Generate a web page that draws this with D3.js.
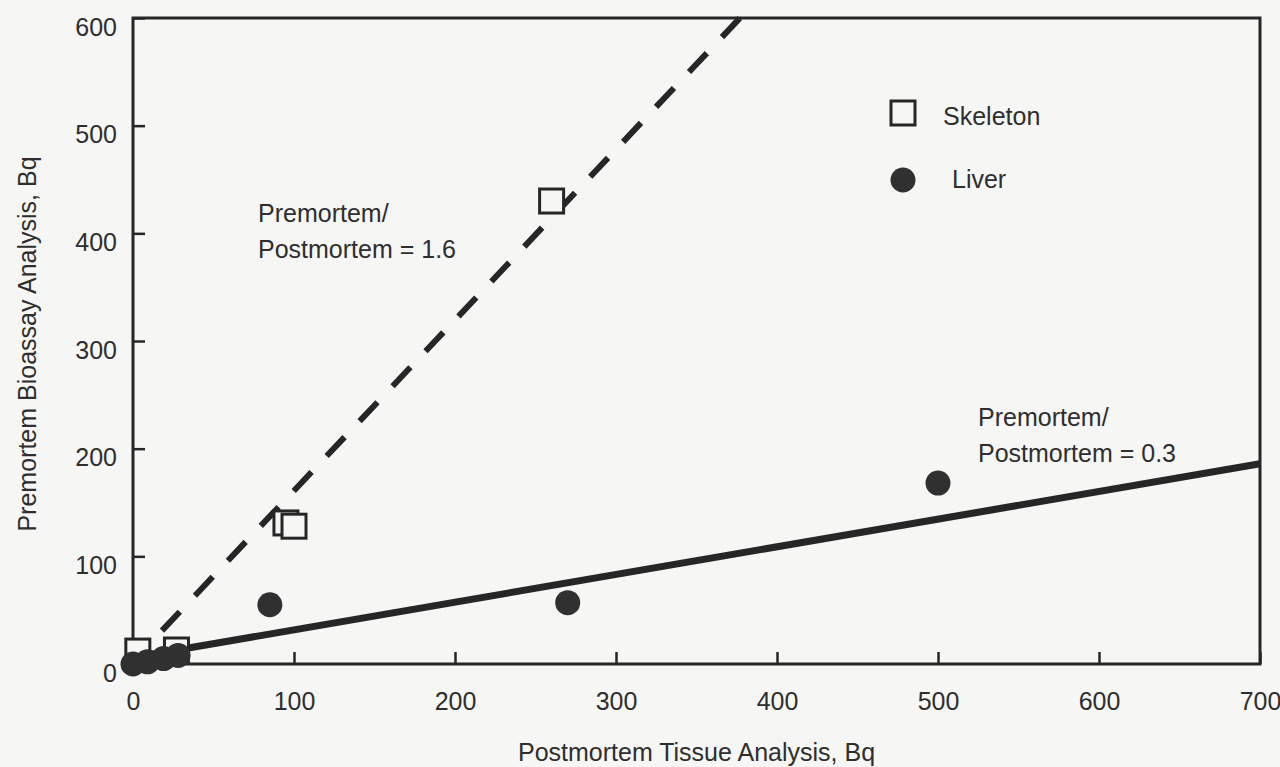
<!DOCTYPE html>
<html>
<head>
<meta charset="utf-8">
<script src="https://cdn.jsdelivr.net/npm/d3@7"></script>
<style>
  html, body { margin: 0; padding: 0; background: #f6f6f4; }
  svg { display: block; }
  text { font-family: "Liberation Sans", Arial, Helvetica, sans-serif; fill: #2e2e2e; }
</style>
</head>
<body>
<svg id="chart" width="1280" height="767"></svg>
<script>
// ---- data ----
const xTicks = [0, 100, 200, 300, 400, 500, 600, 700];
const yTicks = [0, 100, 200, 300, 400, 500, 600];
const skeletonX = [3, 27, 95, 100, 260];
const skeletonY = [12, 13, 131, 128, 430];
const liverX = [0, 9, 19, 28, 85, 270, 500];
const liverY = [0, 2, 5, 8, 55, 57, 168];
const dashedFitX = [18, 377];   // Premortem/Postmortem = 1.6
const dashedFitY = [31, 600];
const solidFitX = [0, 700];     // Premortem/Postmortem = 0.3
const solidFitY = [6, 186];
const seriesNames = ["Skeleton", "Liver"];

// ---- layout ----
const svg = d3.select("#chart");
const x = d3.scaleLinear().domain([0, 700]).range([133, 1260]);
const y = d3.scaleLinear().domain([0, 600]).range([664, 18]);
const ink = "#262626";

svg.append("rect").attr("width", 1280).attr("height", 767).attr("fill", "#f6f6f4");

// axes
const gx = svg.append("g").attr("transform", `translate(0,${y(0)})`)
  .call(d3.axisBottom(x).tickValues(xTicks).tickSize(-12).tickPadding(28).tickFormat(d3.format("d")));
gx.select(".domain").remove();
gx.selectAll(".tick line").attr("stroke", ink).attr("stroke-width", 2.5);
gx.selectAll(".tick text").attr("font-size", 25).attr("fill", "#2e2e2e");

const gy = svg.append("g").attr("transform", `translate(${x(0)},0)`)
  .call(d3.axisLeft(y).tickValues(yTicks).tickSize(-12).tickPadding(16).tickFormat(d3.format("d")));
gy.select(".domain").remove();
gy.selectAll(".tick line").attr("stroke", ink).attr("stroke-width", 2.5);
gy.selectAll(".tick text").attr("font-size", 25).attr("dy", 17).attr("fill", "#2e2e2e");

// frame
svg.append("rect")
  .attr("x", x(0)).attr("y", y(600))
  .attr("width", x(700) - x(0)).attr("height", y(0) - y(600))
  .attr("fill", "none").attr("stroke", ink).attr("stroke-width", 3);

// fit lines
const line = d3.line().x(d => x(d[0])).y(d => y(d[1]));
svg.append("path")
  .datum(dashedFitX.map((v, i) => [v, dashedFitY[i]]))
  .attr("d", line).attr("fill", "none").attr("stroke", ink)
  .attr("stroke-width", 6).attr("stroke-dasharray", "26,22");
svg.append("path")
  .datum(solidFitX.map((v, i) => [v, solidFitY[i]]))
  .attr("d", line).attr("fill", "none").attr("stroke", ink)
  .attr("stroke-width", 7);

// skeleton squares
const sq = 24;
svg.append("g").selectAll("rect")
  .data(skeletonX.map((v, i) => [v, skeletonY[i]]))
  .join("rect")
  .attr("x", d => x(d[0]) - sq / 2).attr("y", d => y(d[1]) - sq / 2)
  .attr("width", sq).attr("height", sq)
  .attr("fill", "#f6f6f4").attr("stroke", ink).attr("stroke-width", 3);

// liver circles
svg.append("g").selectAll("circle")
  .data(liverX.map((v, i) => [v, liverY[i]]))
  .join("circle")
  .attr("cx", d => x(d[0])).attr("cy", d => y(d[1]))
  .attr("r", 12.5).attr("fill", "#303030");

// legend
const lg = svg.append("g");
lg.append("rect").attr("x", 891).attr("y", 101).attr("width", sq).attr("height", sq)
  .attr("fill", "none").attr("stroke", ink).attr("stroke-width", 3);
lg.append("text").attr("x", 943).attr("y", 125).attr("font-size", 25).text(seriesNames[0]);
lg.append("circle").attr("cx", 903).attr("cy", 180).attr("r", 12.5).attr("fill", "#303030");
lg.append("text").attr("x", 952).attr("y", 188).attr("font-size", 25).text(seriesNames[1]);

// annotations
const ann = svg.append("g").attr("font-size", 25);
ann.append("text").attr("x", 258).attr("y", 222).text("Premortem/");
ann.append("text").attr("x", 258).attr("y", 258).text("Postmortem = 1.6");
ann.append("text").attr("x", 978).attr("y", 426).text("Premortem/");
ann.append("text").attr("x", 978).attr("y", 462).text("Postmortem = 0.3");

// axis titles
svg.append("text")
  .attr("x", (x(0) + x(700)) / 2).attr("y", 761)
  .attr("text-anchor", "middle").attr("font-size", 25)
  .text("Postmortem Tissue Analysis, Bq");
svg.append("text")
  .attr("transform", "translate(36,344) rotate(-90)")
  .attr("text-anchor", "middle").attr("font-size", 25)
  .text("Premortem Bioassay Analysis, Bq");
</script>
</body>
</html>
